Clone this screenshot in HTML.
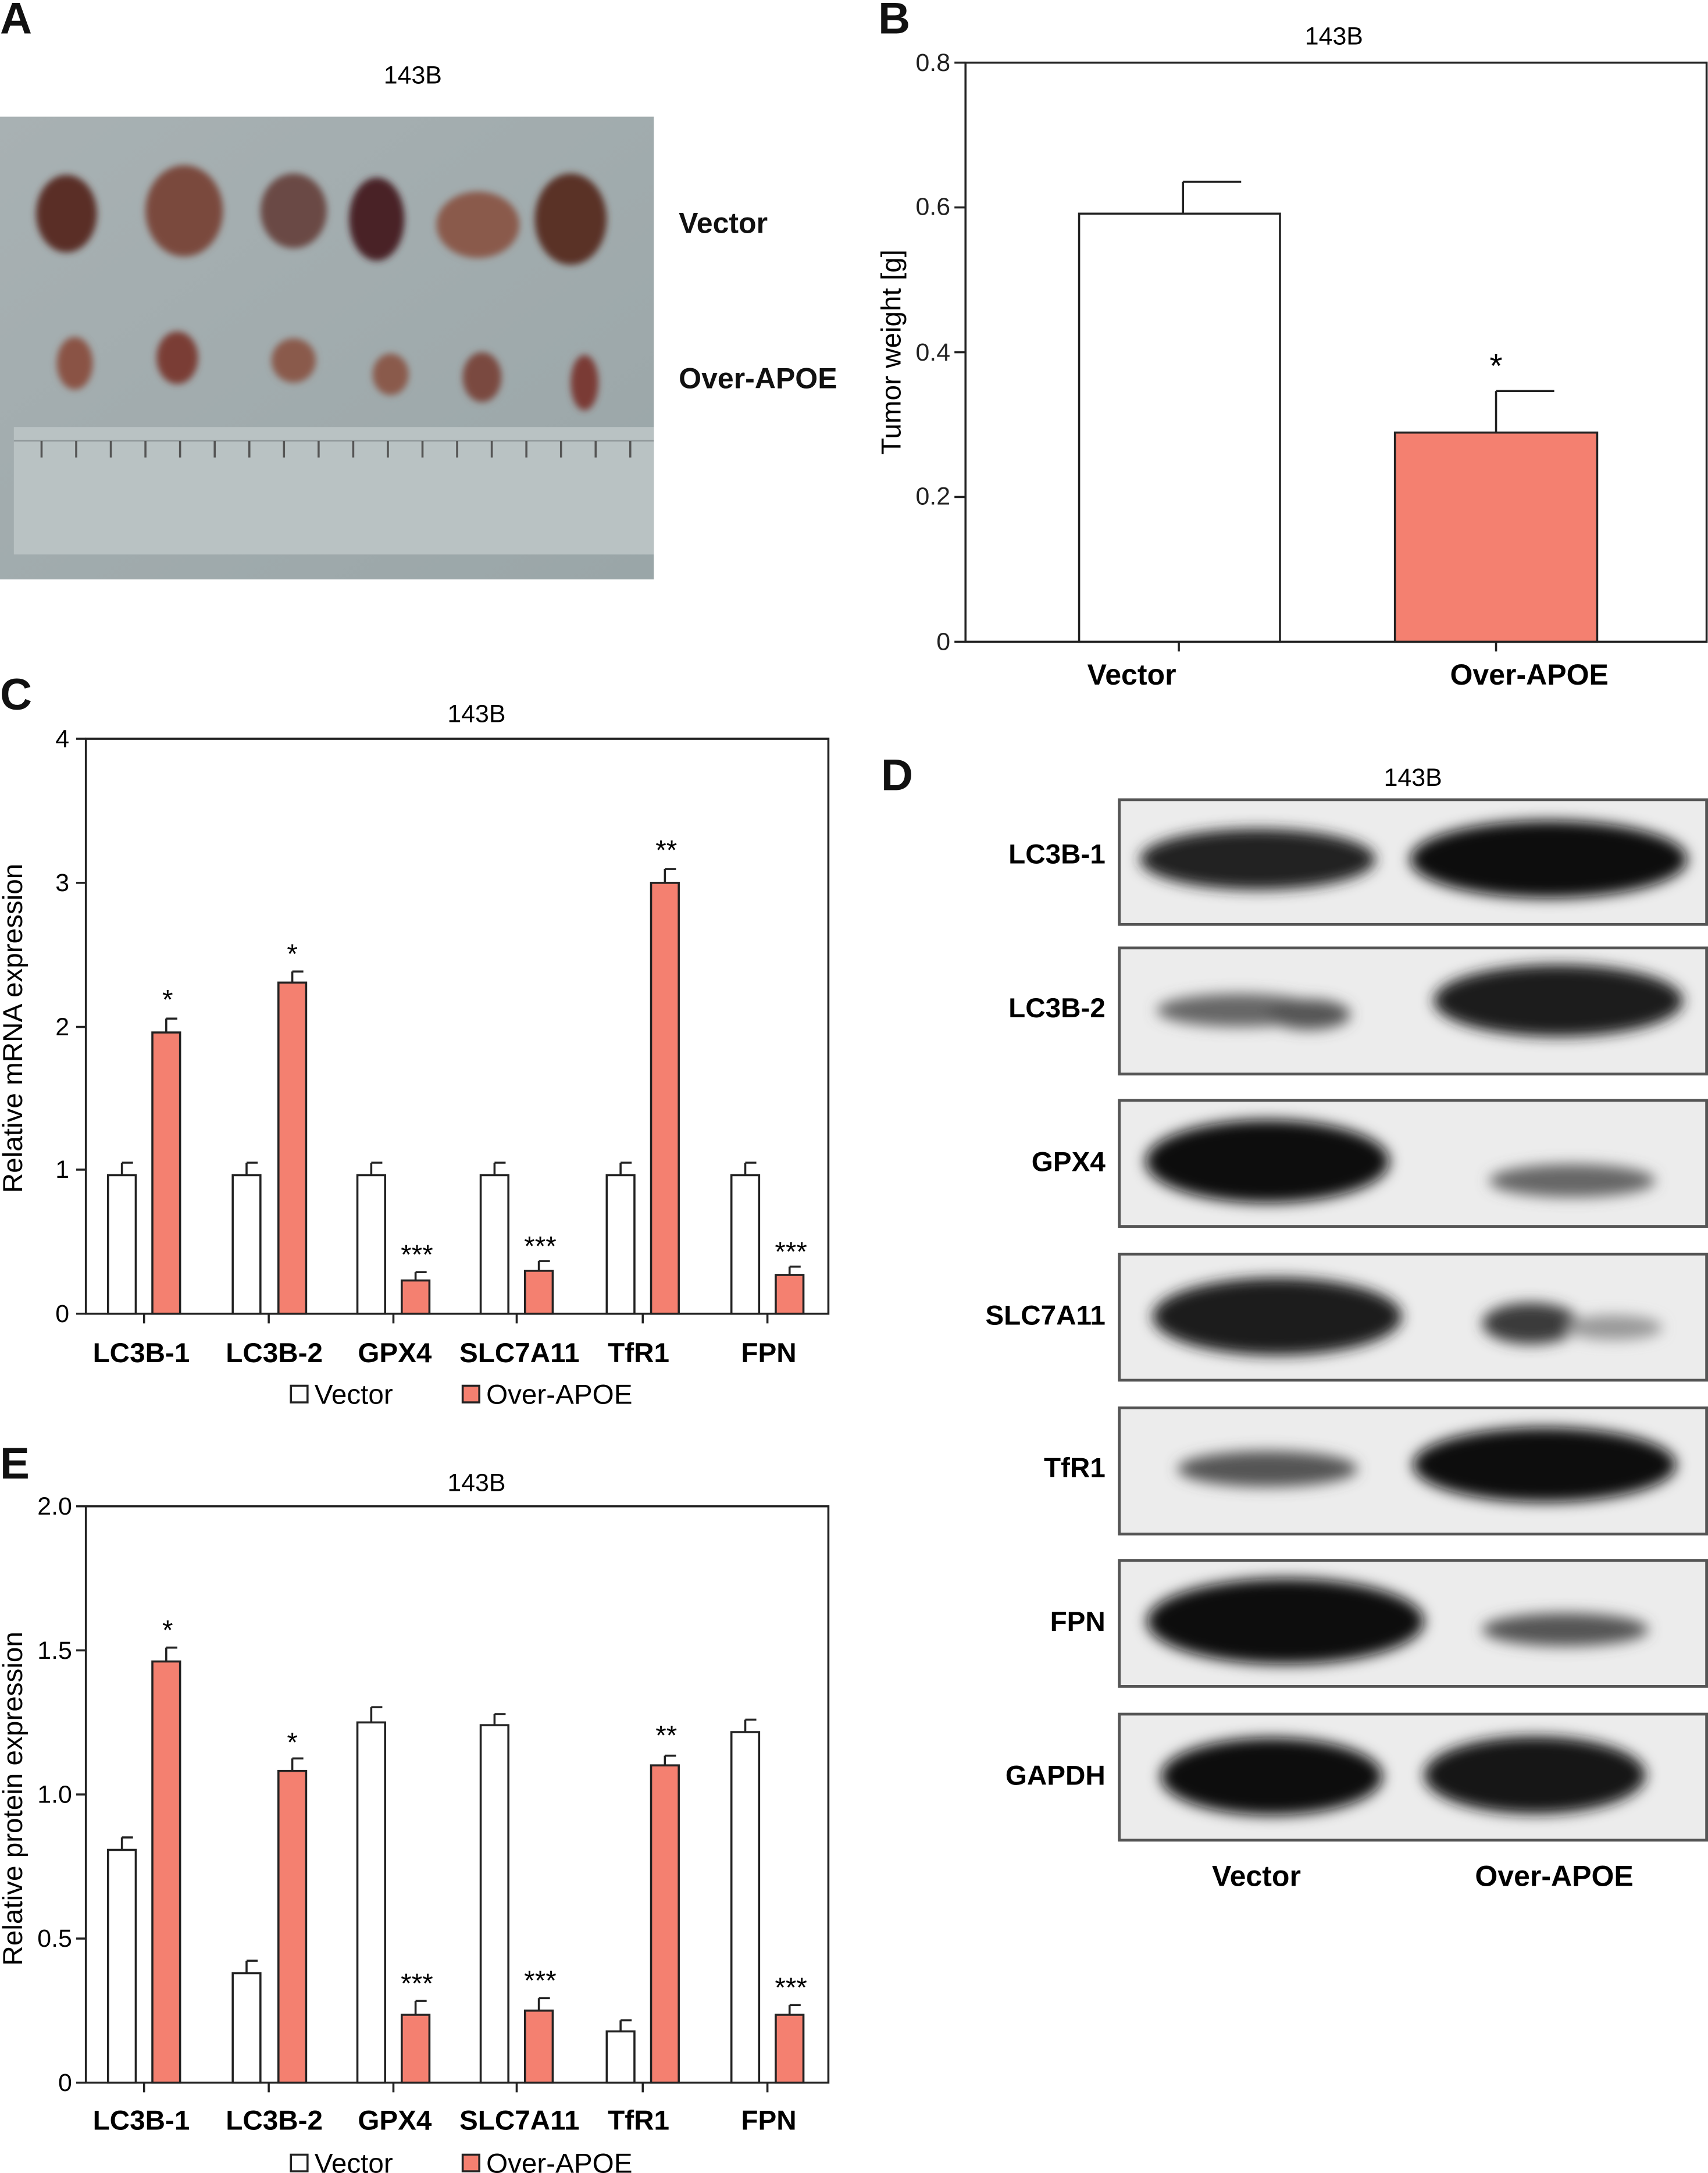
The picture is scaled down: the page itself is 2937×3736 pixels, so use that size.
<!DOCTYPE html>
<html><head><meta charset="utf-8"><style>
html,body{margin:0;padding:0;background:#fff;}
svg{display:block;}
text{font-family:"Liberation Sans",sans-serif;}
</style></head><body>
<svg width="2937" height="3736" viewBox="0 0 1233 1568" xmlns="http://www.w3.org/2000/svg">
<defs>
<filter id="bl" x="-30%" y="-60%" width="160%" height="220%"><feGaussianBlur stdDeviation="5"/></filter>
<filter id="bl2" x="-30%" y="-60%" width="160%" height="220%"><feGaussianBlur stdDeviation="2.5"/></filter>
<linearGradient id="bg" x1="0" y1="0" x2="1" y2="1"><stop offset="0" stop-color="#a8b1b3"/><stop offset="1" stop-color="#9aa6a8"/></linearGradient>
</defs>
<rect width="1233" height="1568" fill="#fff"/>
<g font-size="32" fill="#111" font-weight="bold">
<text x="0" y="24">A</text><text x="634" y="24">B</text><text x="0" y="512">C</text><text x="636" y="570">D</text><text x="0" y="1067">E</text>
</g>
<!-- Panel A -->
<text x="298" y="60" font-size="18" text-anchor="middle">143B</text>
<rect x="0" y="84" width="472" height="334" fill="url(#bg)"/>
<rect x="10" y="308" width="462" height="92" fill="#b9c2c3"/>
<line x1="10" y1="318" x2="472" y2="318" stroke="#8d9597" stroke-width="1"/>
<g stroke="#555" stroke-width="1.5">
<line x1="30" y1="318" x2="30" y2="330"/><line x1="55" y1="318" x2="55" y2="330"/><line x1="80" y1="318" x2="80" y2="330"/><line x1="105" y1="318" x2="105" y2="330"/><line x1="130" y1="318" x2="130" y2="330"/><line x1="155" y1="318" x2="155" y2="330"/><line x1="180" y1="318" x2="180" y2="330"/><line x1="205" y1="318" x2="205" y2="330"/><line x1="230" y1="318" x2="230" y2="330"/><line x1="255" y1="318" x2="255" y2="330"/><line x1="280" y1="318" x2="280" y2="330"/><line x1="305" y1="318" x2="305" y2="330"/><line x1="330" y1="318" x2="330" y2="330"/><line x1="355" y1="318" x2="355" y2="330"/><line x1="380" y1="318" x2="380" y2="330"/><line x1="405" y1="318" x2="405" y2="330"/><line x1="430" y1="318" x2="430" y2="330"/><line x1="455" y1="318" x2="455" y2="330"/>
</g>
<g filter="url(#bl2)">
<ellipse cx="48" cy="154" rx="22" ry="28" fill="#5a2e28"/>
<ellipse cx="133" cy="152" rx="28" ry="33" fill="#7a4a3c"/>
<ellipse cx="212" cy="152" rx="24" ry="27" fill="#6a4a44"/>
<ellipse cx="272" cy="158" rx="20" ry="30" fill="#4a2426"/>
<ellipse cx="345" cy="162" rx="30" ry="24" fill="#8a5a4c"/>
<ellipse cx="412" cy="158" rx="26" ry="33" fill="#5a3028"/>
<ellipse cx="54" cy="262" rx="13" ry="19" fill="#8a5244"/>
<ellipse cx="128" cy="258" rx="15" ry="19" fill="#7a3e36"/>
<ellipse cx="212" cy="260" rx="16" ry="16" fill="#8a5a4c"/>
<ellipse cx="282" cy="270" rx="13" ry="15" fill="#8a5a4c"/>
<ellipse cx="348" cy="272" rx="14" ry="18" fill="#7a4a40"/>
<ellipse cx="422" cy="276" rx="10" ry="20" fill="#7a3a34"/>
</g>
<g font-size="21" font-weight="bold" fill="#111"><text x="490" y="168">Vector</text><text x="490" y="280">Over-APOE</text></g>
<!-- Panel B -->
<text x="963" y="32" font-size="18" text-anchor="middle">143B</text>
<rect x="697" y="45" width="535" height="418" fill="none" stroke="#222" stroke-width="1.5"/>
<g stroke="#222" stroke-width="1.5">
<line x1="689" y1="45" x2="697" y2="45"/><line x1="689" y1="149.5" x2="697" y2="149.5"/><line x1="689" y1="254" x2="697" y2="254"/><line x1="689" y1="358.5" x2="697" y2="358.5"/><line x1="689" y1="463" x2="697" y2="463"/>
<line x1="851" y1="463" x2="851" y2="470"/><line x1="1080" y1="463" x2="1080" y2="470"/>
</g>
<g font-size="18" text-anchor="end" fill="#222"><text x="686" y="51">0.8</text><text x="686" y="155">0.6</text><text x="686" y="260">0.4</text><text x="686" y="364">0.2</text><text x="686" y="469">0</text></g>
<text transform="translate(650,254) rotate(-90)" font-size="20" text-anchor="middle">Tumor weight [g]</text>
<g stroke="#222" stroke-width="1.5">
<rect x="779" y="154" width="145" height="309" fill="#fff"/>
<line x1="854" y1="154" x2="854" y2="131"/><line x1="854" y1="131" x2="896" y2="131"/>
<rect x="1007" y="312" width="146" height="151" fill="#f48070"/>
<line x1="1080" y1="312" x2="1080" y2="282"/><line x1="1080" y1="282" x2="1122" y2="282"/>
</g>
<text x="1080" y="272" font-size="24" text-anchor="middle">*</text>
<g font-size="21" font-weight="bold" text-anchor="middle"><text x="817" y="494">Vector</text><text x="1104" y="494">Over-APOE</text></g>
<!-- Panel C -->
<text x="344" y="521" font-size="18" text-anchor="middle">143B</text>
<rect x="62" y="533" width="536" height="415" fill="none" stroke="#222" stroke-width="1.5"/>
<g stroke="#222" stroke-width="1.5">
<line x1="55" y1="533" x2="62" y2="533"/><line x1="55" y1="637" x2="62" y2="637"/><line x1="55" y1="741" x2="62" y2="741"/><line x1="55" y1="844" x2="62" y2="844"/><line x1="55" y1="948" x2="62" y2="948"/>
</g>
<g font-size="18" text-anchor="end"><text x="50" y="539">4</text><text x="50" y="643">3</text><text x="50" y="747">2</text><text x="50" y="850">1</text><text x="50" y="954">0</text></g>
<text transform="translate(16,742) rotate(-90)" font-size="20" text-anchor="middle">Relative mRNA expression</text>
<g stroke="#222" stroke-width="1.5">
<rect x="78" y="848" width="20" height="100" fill="#fff"/><line x1="88" y1="848" x2="88" y2="839"/><line x1="88" y1="839" x2="96" y2="839"/>
<rect x="168" y="848" width="20" height="100" fill="#fff"/><line x1="178" y1="848" x2="178" y2="839"/><line x1="178" y1="839" x2="186" y2="839"/>
<rect x="258" y="848" width="20" height="100" fill="#fff"/><line x1="268" y1="848" x2="268" y2="839"/><line x1="268" y1="839" x2="276" y2="839"/>
<rect x="347" y="848" width="20" height="100" fill="#fff"/><line x1="357" y1="848" x2="357" y2="839"/><line x1="357" y1="839" x2="365" y2="839"/>
<rect x="438" y="848" width="20" height="100" fill="#fff"/><line x1="448" y1="848" x2="448" y2="839"/><line x1="448" y1="839" x2="456" y2="839"/>
<rect x="528" y="848" width="20" height="100" fill="#fff"/><line x1="538" y1="848" x2="538" y2="839"/><line x1="538" y1="839" x2="546" y2="839"/>
<rect x="110" y="745" width="20" height="203" fill="#f48070"/><line x1="120" y1="745" x2="120" y2="735"/><line x1="120" y1="735" x2="128" y2="735"/>
<rect x="201" y="709" width="20" height="239" fill="#f48070"/><line x1="211" y1="709" x2="211" y2="701"/><line x1="211" y1="701" x2="219" y2="701"/>
<rect x="290" y="924" width="20" height="24" fill="#f48070"/><line x1="300" y1="924" x2="300" y2="918"/><line x1="300" y1="918" x2="308" y2="918"/>
<rect x="379" y="917" width="20" height="31" fill="#f48070"/><line x1="389" y1="917" x2="389" y2="910"/><line x1="389" y1="910" x2="397" y2="910"/>
<rect x="470" y="637" width="20" height="311" fill="#f48070"/><line x1="480" y1="637" x2="480" y2="627"/><line x1="480" y1="627" x2="488" y2="627"/>
<rect x="560" y="920" width="20" height="28" fill="#f48070"/><line x1="570" y1="920" x2="570" y2="914"/><line x1="570" y1="914" x2="578" y2="914"/>
<line x1="104" y1="948" x2="104" y2="955"/><line x1="194" y1="948" x2="194" y2="955"/><line x1="284" y1="948" x2="284" y2="955"/><line x1="373" y1="948" x2="373" y2="955"/><line x1="464" y1="948" x2="464" y2="955"/><line x1="554" y1="948" x2="554" y2="955"/>
</g>
<g font-size="20" text-anchor="middle"><text x="121" y="728">*</text><text x="211" y="695">*</text><text x="301" y="912">***</text><text x="390" y="906">***</text><text x="481" y="620">**</text><text x="571" y="910">***</text></g>
<g font-size="20" font-weight="bold" text-anchor="middle"><text x="102" y="983">LC3B-1</text><text x="198" y="983">LC3B-2</text><text x="285" y="983">GPX4</text><text x="375" y="983">SLC7A11</text><text x="461" y="983">TfR1</text><text x="555" y="983">FPN</text></g>
<rect x="210" y="1000" width="12" height="12" fill="#fff" stroke="#222" stroke-width="1.5"/><text x="227" y="1013" font-size="20">Vector</text>
<rect x="334" y="1000" width="12" height="12" fill="#f48070" stroke="#222" stroke-width="1.5"/><text x="351" y="1013" font-size="20">Over-APOE</text>
<!-- Panel E -->
<text x="344" y="1076" font-size="18" text-anchor="middle">143B</text>
<rect x="62" y="1087" width="536" height="416" fill="none" stroke="#222" stroke-width="1.5"/>
<g stroke="#222" stroke-width="1.5">
<line x1="55" y1="1087" x2="62" y2="1087"/><line x1="55" y1="1191" x2="62" y2="1191"/><line x1="55" y1="1295" x2="62" y2="1295"/><line x1="55" y1="1399" x2="62" y2="1399"/><line x1="55" y1="1503" x2="62" y2="1503"/>
</g>
<g font-size="18" text-anchor="end"><text x="52" y="1093">2.0</text><text x="52" y="1197">1.5</text><text x="52" y="1301">1.0</text><text x="52" y="1405">0.5</text><text x="52" y="1509">0</text></g>
<text transform="translate(16,1298) rotate(-90)" font-size="20" text-anchor="middle">Relative protein expression</text>
<g stroke="#222" stroke-width="1.5">
<rect x="78" y="1335" width="20" height="168" fill="#fff"/><line x1="88" y1="1335" x2="88" y2="1326"/><line x1="88" y1="1326" x2="96" y2="1326"/>
<rect x="168" y="1424" width="20" height="79" fill="#fff"/><line x1="178" y1="1424" x2="178" y2="1415"/><line x1="178" y1="1415" x2="186" y2="1415"/>
<rect x="258" y="1243" width="20" height="260" fill="#fff"/><line x1="268" y1="1243" x2="268" y2="1232"/><line x1="268" y1="1232" x2="276" y2="1232"/>
<rect x="347" y="1245" width="20" height="258" fill="#fff"/><line x1="357" y1="1245" x2="357" y2="1237"/><line x1="357" y1="1237" x2="365" y2="1237"/>
<rect x="438" y="1466" width="20" height="37" fill="#fff"/><line x1="448" y1="1466" x2="448" y2="1458"/><line x1="448" y1="1458" x2="456" y2="1458"/>
<rect x="528" y="1250" width="20" height="253" fill="#fff"/><line x1="538" y1="1250" x2="538" y2="1241"/><line x1="538" y1="1241" x2="546" y2="1241"/>
<rect x="110" y="1199" width="20" height="304" fill="#f48070"/><line x1="120" y1="1199" x2="120" y2="1189"/><line x1="120" y1="1189" x2="128" y2="1189"/>
<rect x="201" y="1278" width="20" height="225" fill="#f48070"/><line x1="211" y1="1278" x2="211" y2="1269"/><line x1="211" y1="1269" x2="219" y2="1269"/>
<rect x="290" y="1454" width="20" height="49" fill="#f48070"/><line x1="300" y1="1454" x2="300" y2="1444"/><line x1="300" y1="1444" x2="308" y2="1444"/>
<rect x="379" y="1451" width="20" height="52" fill="#f48070"/><line x1="389" y1="1451" x2="389" y2="1442"/><line x1="389" y1="1442" x2="397" y2="1442"/>
<rect x="470" y="1274" width="20" height="229" fill="#f48070"/><line x1="480" y1="1274" x2="480" y2="1267"/><line x1="480" y1="1267" x2="488" y2="1267"/>
<rect x="560" y="1454" width="20" height="49" fill="#f48070"/><line x1="570" y1="1454" x2="570" y2="1447"/><line x1="570" y1="1447" x2="578" y2="1447"/>
<line x1="104" y1="1503" x2="104" y2="1510"/><line x1="194" y1="1503" x2="194" y2="1510"/><line x1="284" y1="1503" x2="284" y2="1510"/><line x1="373" y1="1503" x2="373" y2="1510"/><line x1="464" y1="1503" x2="464" y2="1510"/><line x1="554" y1="1503" x2="554" y2="1510"/>
</g>
<g font-size="20" text-anchor="middle"><text x="121" y="1183">*</text><text x="211" y="1264">*</text><text x="301" y="1438">***</text><text x="390" y="1436">***</text><text x="481" y="1259">**</text><text x="571" y="1441">***</text></g>
<g font-size="20" font-weight="bold" text-anchor="middle"><text x="102" y="1537">LC3B-1</text><text x="198" y="1537">LC3B-2</text><text x="285" y="1537">GPX4</text><text x="375" y="1537">SLC7A11</text><text x="461" y="1537">TfR1</text><text x="555" y="1537">FPN</text></g>
<rect x="210" y="1555" width="12" height="12" fill="#fff" stroke="#222" stroke-width="1.5"/><text x="227" y="1568" font-size="20">Vector</text>
<rect x="334" y="1555" width="12" height="12" fill="#f48070" stroke="#222" stroke-width="1.5"/><text x="351" y="1568" font-size="20">Over-APOE</text>
<!-- Panel D -->
<text x="1020" y="567" font-size="18" text-anchor="middle">143B</text>
<g fill="#ececec" stroke="#555" stroke-width="2">
<rect x="808" y="577" width="424" height="90"/><rect x="808" y="684" width="424" height="91"/><rect x="808" y="794" width="424" height="91"/><rect x="808" y="905" width="424" height="91"/><rect x="808" y="1016" width="424" height="91"/><rect x="808" y="1126" width="424" height="91"/><rect x="808" y="1237" width="424" height="91"/>
</g>
<g fill="#222" filter="url(#bl)">
<ellipse cx="908" cy="620" rx="85" ry="22"/><ellipse cx="1118" cy="620" rx="100" ry="28" fill="#111"/>
<ellipse cx="895" cy="729" rx="60" ry="12" fill="#666"/><ellipse cx="945" cy="732" rx="30" ry="11" fill="#555"/><ellipse cx="1125" cy="722" rx="90" ry="26" fill="#1a1a1a"/>
<ellipse cx="915" cy="838" rx="88" ry="30" fill="#111"/><ellipse cx="1135" cy="852" rx="60" ry="12" fill="#666"/>
<ellipse cx="922" cy="950" rx="90" ry="28" fill="#1a1a1a"/><ellipse cx="1105" cy="955" rx="35" ry="15" fill="#3a3a3a"/><ellipse cx="1165" cy="958" rx="35" ry="9" fill="#999"/>
<ellipse cx="915" cy="1060" rx="65" ry="13" fill="#555"/><ellipse cx="1115" cy="1057" rx="95" ry="27" fill="#111"/>
<ellipse cx="928" cy="1170" rx="100" ry="31" fill="#111"/><ellipse cx="1130" cy="1176" rx="60" ry="12" fill="#555"/>
<ellipse cx="918" cy="1282" rx="80" ry="28" fill="#111"/><ellipse cx="1108" cy="1281" rx="80" ry="28" fill="#151515"/>
</g>
<g font-size="20" font-weight="bold" text-anchor="end"><text x="798" y="623">LC3B-1</text><text x="798" y="734">LC3B-2</text><text x="798" y="845">GPX4</text><text x="798" y="956">SLC7A11</text><text x="798" y="1066">TfR1</text><text x="798" y="1177">FPN</text><text x="798" y="1288">GAPDH</text></g>
<g font-size="21" font-weight="bold" text-anchor="middle"><text x="907" y="1361">Vector</text><text x="1122" y="1361">Over-APOE</text></g>
</svg>
</body></html>
